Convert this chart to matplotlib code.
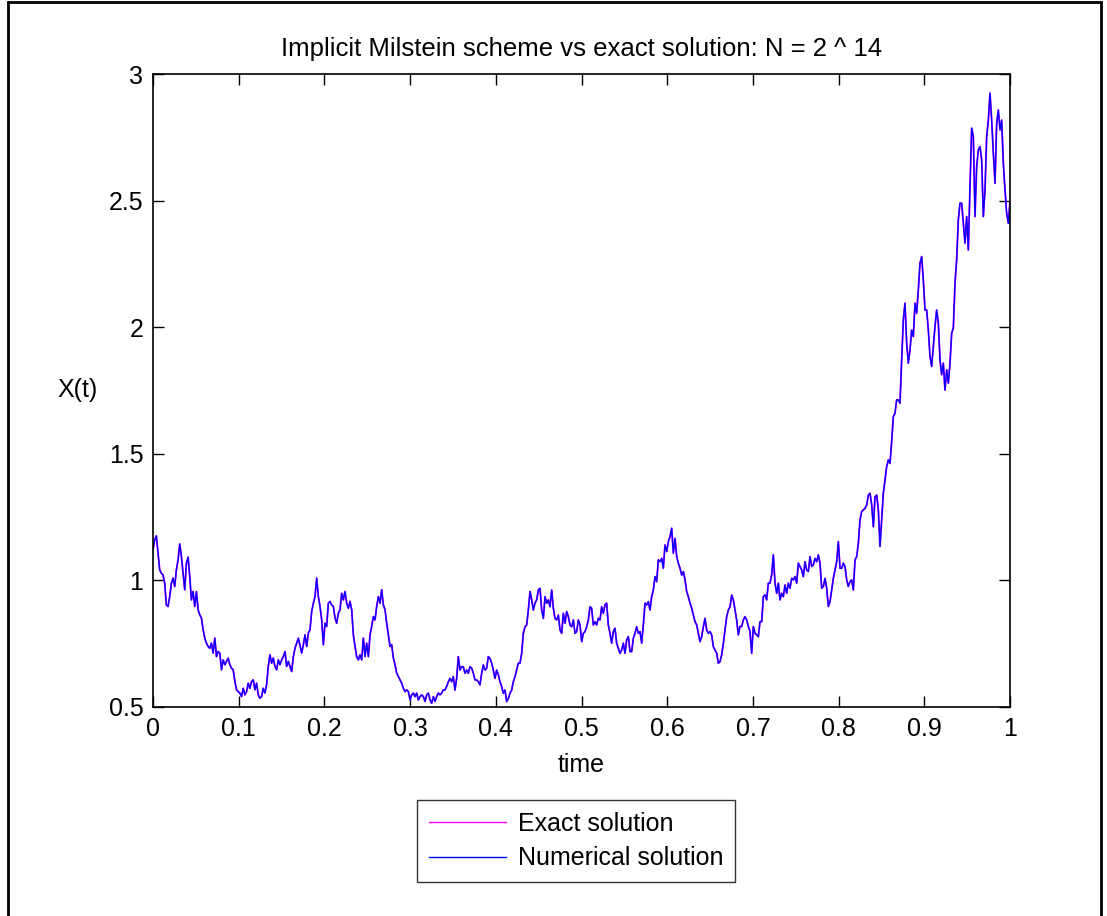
import numpy as np
import matplotlib.pyplot as plt
from matplotlib.patches import Rectangle

plt.rcParams['font.family'] = ['Liberation Sans', 'DejaVu Sans']

# X(t) path, read in six stretches; each stretch is evenly spaced in time
seg1 = [1.121, 1.160, 1.176, 1.107, 1.042, 1.028, 1.022, 0.989, 0.903, 0.897,
        0.936, 0.989, 1.009, 0.976, 1.042, 1.081, 1.144, 1.094, 1.028, 0.963,
        1.068, 1.092, 1.015, 0.923, 0.956, 0.897, 0.956, 0.884, 0.864, 0.851,
        0.805, 0.772, 0.752, 0.739, 0.732, 0.752, 0.713, 0.772, 0.699, 0.719,
        0.713, 0.647, 0.686, 0.667, 0.680, 0.693, 0.667, 0.653, 0.647, 0.601,
        0.568, 0.561, 0.555, 0.541, 0.574, 0.548, 0.561, 0.594, 0.574, 0.601,
        0.607, 0.568, 0.594, 0.548, 0.535, 0.541, 0.574, 0.555, 0.588, 0.660,
        0.706, 0.673, 0.693, 0.660, 0.647, 0.686, 0.667, 0.686, 0.699, 0.719,
        0.660, 0.680, 0.660, 0.640, 0.699, 0.732, 0.752, 0.772]
seg2 = [0.713, 0.746, 0.785, 0.739, 0.792, 0.805, 0.877, 0.910, 0.936, 1.009,
        0.936, 0.897, 0.844, 0.746, 0.831, 0.818, 0.910, 0.917, 0.903, 0.897,
        0.851, 0.831, 0.871, 0.884, 0.949, 0.923, 0.956, 0.910, 0.890, 0.917,
        0.884, 0.785, 0.739, 0.699, 0.686, 0.706, 0.686, 0.772, 0.699, 0.752,
        0.699, 0.785, 0.818, 0.857, 0.844, 0.897, 0.936, 0.910, 0.963, 0.903,
        0.884, 0.831, 0.785, 0.739, 0.746, 0.693, 0.667, 0.634, 0.620, 0.607,
        0.594, 0.574, 0.561, 0.568, 0.561, 0.528, 0.548, 0.555, 0.541, 0.555,
        0.528, 0.541, 0.548, 0.541, 0.522, 0.548, 0.555, 0.528, 0.515, 0.541,
        0.522, 0.541, 0.555, 0.548, 0.555, 0.568]
seg3 = [0.567, 0.581, 0.600, 0.613, 0.600, 0.620, 0.567, 0.613, 0.699, 0.646,
        0.659, 0.659, 0.633, 0.646, 0.633, 0.659, 0.653, 0.633, 0.607, 0.607,
        0.600, 0.587, 0.633, 0.666, 0.646, 0.653, 0.699, 0.692, 0.673, 0.646,
        0.613, 0.646, 0.627, 0.600, 0.581, 0.554, 0.567, 0.521, 0.534, 0.554,
        0.567, 0.600, 0.620, 0.646, 0.673, 0.673, 0.712, 0.791, 0.817, 0.824,
        0.883, 0.956, 0.923, 0.883, 0.910, 0.923, 0.962, 0.969, 0.883, 0.850,
        0.936, 0.910, 0.923, 0.896, 0.962, 0.890, 0.850, 0.844, 0.863, 0.804,
        0.791, 0.870, 0.831, 0.877, 0.857, 0.824, 0.817, 0.844, 0.791, 0.798,
        0.844, 0.824, 0.758, 0.791, 0.798, 0.817, 0.844]
seg4 = [0.896, 0.890, 0.824, 0.837, 0.824, 0.850, 0.844, 0.896, 0.870, 0.903,
        0.910, 0.824, 0.791, 0.752, 0.798, 0.811, 0.752, 0.732, 0.712, 0.725,
        0.752, 0.712, 0.765, 0.778, 0.719, 0.719, 0.771, 0.791, 0.817, 0.791,
        0.798, 0.752, 0.824, 0.910, 0.903, 0.916, 0.883, 0.936, 0.962, 1.015,
        0.995, 1.081, 1.074, 1.087, 1.048, 1.140, 1.114, 1.153, 1.173, 1.206,
        1.107, 1.166, 1.094, 1.068, 1.048, 1.021, 1.035, 1.002, 0.956, 0.936,
        0.910, 0.890, 0.863, 0.837, 0.824, 0.791, 0.758, 0.778, 0.817, 0.850,
        0.804, 0.791, 0.798, 0.784, 0.738, 0.725, 0.712, 0.673, 0.679, 0.706,
        0.752, 0.804, 0.857, 0.883, 0.896, 0.942, 0.923]
seg5 = [0.883, 0.844, 0.785, 0.818, 0.818, 0.844, 0.857, 0.844, 0.818, 0.798,
        0.712, 0.818, 0.791, 0.785, 0.778, 0.837, 0.837, 0.936, 0.943, 0.923,
        0.989, 0.989, 1.022, 1.101, 0.989, 0.949, 0.989, 0.923, 0.949, 0.936,
        0.982, 0.949, 0.989, 0.969, 1.008, 1.002, 1.015, 0.989, 1.068, 1.055,
        1.041, 1.015, 1.074, 1.041, 1.035, 1.094, 1.055, 1.061, 1.087, 1.074,
        1.101, 1.068, 0.969, 0.976, 1.008, 0.969, 0.897, 0.916, 0.962, 1.008,
        1.041, 1.074, 1.153, 1.048, 1.048, 1.068, 1.055, 1.002, 0.976, 0.995,
        1.002, 0.962, 1.081, 1.094, 1.147, 1.239, 1.272, 1.278, 1.285, 1.298,
        1.337, 1.344, 1.298, 1.212, 1.331, 1.337, 1.278]
seg6 = [1.134, 1.239, 1.344, 1.397, 1.449, 1.476, 1.462, 1.548, 1.647, 1.660,
        1.713, 1.713, 1.700, 1.871, 2.029, 2.095, 1.937, 1.858, 1.910, 1.989,
        1.963, 2.095, 2.055, 2.147, 2.253, 2.279, 2.187, 2.068, 2.068, 1.989,
        1.884, 1.845, 1.924, 2.003, 2.068, 2.016, 1.871, 1.812, 1.858, 1.752,
        1.832, 1.779, 1.858, 1.976, 1.996, 2.174, 2.266, 2.424, 2.490, 2.490,
        2.410, 2.332, 2.437, 2.305, 2.555, 2.786, 2.752, 2.437, 2.634, 2.700,
        2.713, 2.661, 2.437, 2.542, 2.752, 2.818, 2.924, 2.818, 2.687, 2.568,
        2.805, 2.858, 2.779, 2.818, 2.647, 2.542, 2.450, 2.410, 2.496]
segments = [seg1, seg2, seg3, seg4, seg5, seg6]
seg_spans = [(0.0, 0.1696), (0.1735, 0.3388), (0.3407, 0.5080),
             (0.5099, 0.6772), (0.6791, 0.8464), (0.8483, 1.0)]

time = np.concatenate([np.linspace(a, b, len(s)) for (a, b), s in zip(seg_spans, segments)])
x_path = np.concatenate([np.asarray(s) for s in segments])

x_ticks = [0, 0.1, 0.2, 0.3, 0.4, 0.5, 0.6, 0.7, 0.8, 0.9, 1]
x_ticklabels = ["0", "0.1", "0.2", "0.3", "0.4", "0.5", "0.6", "0.7", "0.8", "0.9", "1"]
y_ticks = [0.5, 1, 1.5, 2, 2.5, 3]
y_ticklabels = ["0.5", "1", "1.5", "2", "2.5", "3"]

W, H = 1107, 916
fig = plt.figure(figsize=(W / 100, H / 100), dpi=100)
ax = fig.add_axes([153 / W, 1 - 707 / H, (1010 - 153) / W, (707 - 74) / H])

ax.plot(time, x_path, color="#ff00ff", lw=1.3, label="Exact solution")
ax.plot(time, x_path, color="#0000ff", lw=1.0, label="Numerical solution")

ax.set_xlim(0, 1)
ax.set_ylim(0.5, 3)
ax.set_xticks(x_ticks)
ax.set_xticklabels(x_ticklabels)
ax.set_yticks(y_ticks)
ax.set_yticklabels(y_ticklabels)
ax.tick_params(direction="in", length=8, width=1, top=True, right=True,
               labelsize=18, pad=7, colors="black")
for s in ax.spines.values():
    s.set_linewidth(1.2)

ax.set_title("Implicit Milstein scheme vs exact solution: N = 2 ^ 14",
             fontsize=18.5, pad=13)
ax.set_xlabel("time", fontsize=18, labelpad=9)
ax.set_ylabel("X(t)", fontsize=18, rotation=0, labelpad=22, va="center")

leg = ax.legend(loc="upper left", bbox_to_anchor=(417 / W, 1 - 800 / H),
                bbox_transform=fig.transFigure, fontsize=18, frameon=True,
                fancybox=False, edgecolor="black", handlelength=3.1,
                handletextpad=0.45, borderpad=0.47, labelspacing=0.42,
                borderaxespad=0)
leg.get_frame().set_linewidth(1.0)
for line in leg.get_lines():
    line.set_linewidth(1.0)

# outer frame around the figure
fig.add_artist(Rectangle((8 / W, -0.01), (1101 - 8) / W, 1.01 - 2 / H,
                         transform=fig.transFigure, fill=False,
                         edgecolor="black", lw=2))

fig.savefig("out.png", dpi=100)
